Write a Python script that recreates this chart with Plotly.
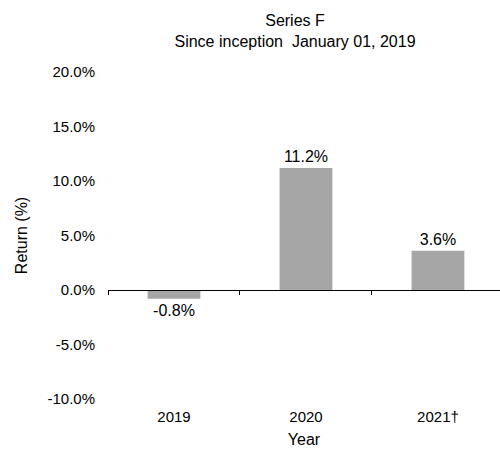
import plotly.graph_objects as go

# Annual returns, in percent
years = ["2019", "2020", "2021\u2020"]
returns = [-0.8, 11.2, 3.6]

y_min, y_max = -10, 20
y_ticks = [-10, -5, 0, 5, 10, 15, 20]
y_tick_labels = [f"{v:.1f}%" for v in y_ticks]

FONT = "Liberation Sans, Arial, sans-serif"
BAR_COLOR = "#a6a6a6"

fig = go.Figure()

fig.add_trace(go.Bar(
    x=list(range(len(years))),
    y=returns,
    width=0.4,
    marker=dict(color=BAR_COLOR, line=dict(width=0)),
    text=[f"{v:.1f}%" for v in returns],
    textposition="outside",
    textfont=dict(family=FONT, size=16, color="#000"),
    cliponaxis=False,
    showlegend=False,
))

# empty trace so the zero-line axis gets drawn
fig.add_trace(go.Scatter(x=[], y=[], xaxis="x2", showlegend=False))

x_range = [-0.5, 2.47]

fig.update_layout(
    width=500,
    height=450,
    margin=dict(l=108, r=0, t=72, b=51),
    paper_bgcolor="white",
    plot_bgcolor="white",
    font=dict(family=FONT, size=15, color="#000"),
    title=dict(
        text="Series F<br>Since inception\u00a0 January 01, 2019",
        x=0.59, xanchor="center", xref="container",
        y=0.942, yanchor="top", yref="container",
        font=dict(family=FONT, size=16, color="#000"),
    ),
    xaxis=dict(
        range=x_range,
        tickvals=list(range(len(years))),
        ticktext=years,
        showline=False, showgrid=False, zeroline=False,
        ticks="", ticklabelstandoff=7,
        tickfont=dict(size=15),
        title=dict(text="Year", standoff=9, font=dict(size=16)),
    ),
    xaxis2=dict(
        overlaying="x",
        matches="x",
        anchor="free",
        position=(0 - y_min) / (y_max - y_min),
        side="bottom",
        showline=True, linecolor="#000", linewidth=1,
        ticks="outside", ticklen=4, tickcolor="#000", tickwidth=1,
        tickvals=[-0.5, 0.5, 1.5, 2.5],
        showticklabels=False,
        showgrid=False, zeroline=False,
    ),
    yaxis=dict(
        range=[y_min, y_max],
        tickvals=y_ticks,
        ticktext=y_tick_labels,
        showline=False, showgrid=False, zeroline=False,
        ticks="", ticklabelstandoff=12,
        tickfont=dict(size=15),
        title=dict(text="Return (%)", standoff=15, font=dict(size=16)),
    ),
)

fig.write_html("out.html")
